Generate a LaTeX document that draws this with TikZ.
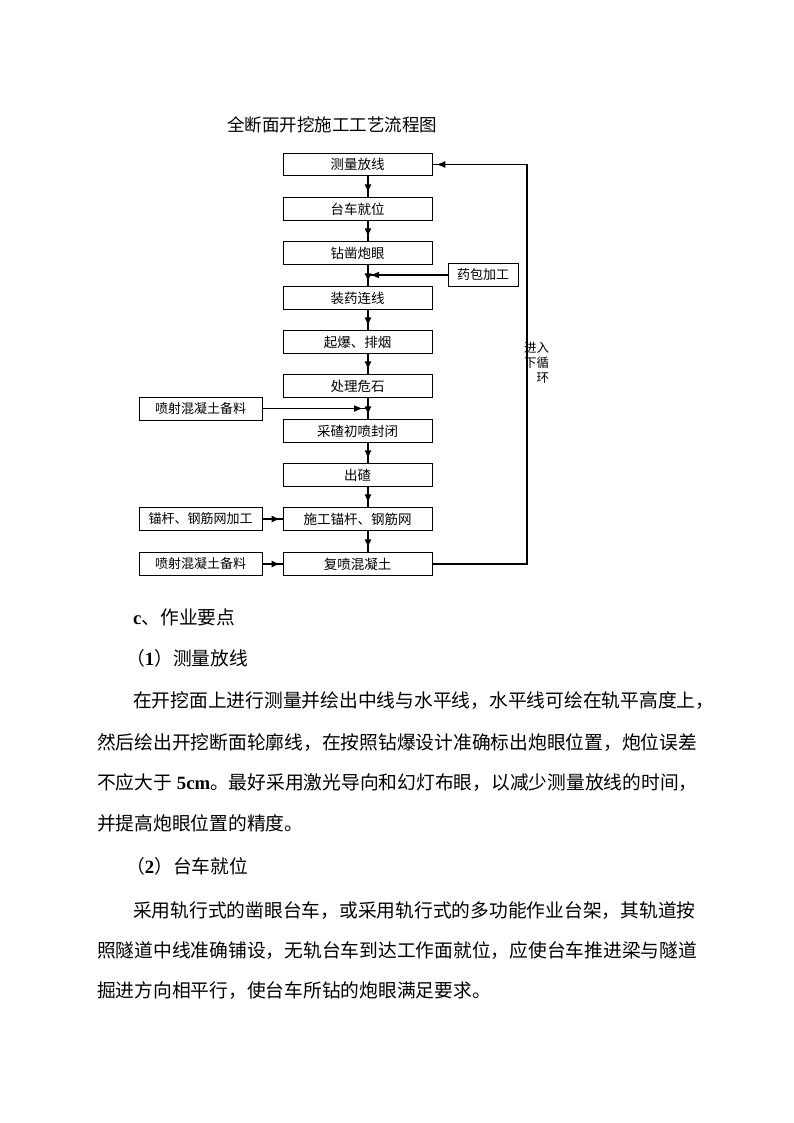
\documentclass[tikz,border=0pt]{standalone}
\usepackage{fontspec}
\setmainfont{Noto Sans CJK SC}
\newfontfamily\timesfont{Liberation Serif}
\usetikzlibrary{positioning,arrows.meta,decorations.markings}

\begin{document}
\begin{tikzpicture}[x=1pt, y=-1pt,
    proc/.style={rectangle, draw=black, line width=0.8pt, minimum width=149pt, minimum height=22.5pt, inner sep=0pt, font=\fontsize{13.5}{16}\selectfont},
    sidebox/.style={rectangle, draw=black, line width=0.8pt, minimum width=123pt, minimum height=23pt, inner sep=0pt, font=\fontsize{13}{16}\selectfont},
    flowarrow/.style={line width=1.8pt, decoration={markings, mark=at position #1 with {\arrow{Latex[length=9pt,width=7pt]}}}, postaction={decorate}},
    flowarrow/.default=-4pt,
    body/.style={anchor=base west, inner sep=0pt, font=\fontsize{18.75}{22}\selectfont}
]
\path[use as bounding box, fill=white] (0,0) rectangle (794,1123);

% ============== TITLE ==============
\node (title) at (332,125) {\fontsize{17.5}{20}\selectfont 全断面开挖施工工艺流程图};

% ============== MAIN COLUMN ==============
\node[proc] (survey)    at (357.5,164.5) {测量放线};
\node[proc] (carPos)    at (357.5,209)   {台车就位};
\node[proc] (drillHole) at (357.5,253)   {钻凿炮眼};
\node[proc] (charge)    at (357.5,298)   {装药连线};
\node[proc] (blast)     at (357.5,342)   {起爆、排烟};
\node[proc] (scaling)   at (357.5,386)   {处理危石};
\node[proc] (muckSeal)  at (357.5,431)   {采碴初喷封闭};
\node[proc] (mucking)   at (357.5,475)   {出碴};
\node[proc] (boltMesh)  at (357.5,519)   {施工锚杆、钢筋网};
\node[proc] (reSpray)   at (357.5,564)   {复喷混凝土};

% ============== SIDE BOXES ==============
\node[rectangle, draw=black, line width=0.8pt, minimum width=70pt, minimum height=23pt, inner sep=0pt, font=\fontsize{13}{16}\selectfont] (powderPrep) at (483,275) {药包加工};
\node[sidebox] (shotPrep)  at (200.5,408.5) {喷射混凝土备料};
\node[sidebox] (meshPrep)  at (200.5,519)   {锚杆、钢筋网加工};
\node[sidebox] (shotPrepB) at (200.5,564)   {喷射混凝土备料};

% ============== CONNECTORS ==============
\coordinate (axis) at (368,0);
\coordinate (loopx) at (527,0);

\draw[flowarrow] (survey.south -| axis)    -- (carPos.north -| axis);
\draw[flowarrow] (carPos.south -| axis)    -- (drillHole.north -| axis);
\draw[flowarrow] (drillHole.south -| axis) -- (charge.north -| axis);
\draw[flowarrow] (charge.south -| axis)    -- (blast.north -| axis);
\draw[flowarrow] (blast.south -| axis)     -- (scaling.north -| axis);
\draw[flowarrow] (scaling.south -| axis)   -- (muckSeal.north -| axis);
\draw[flowarrow] (muckSeal.south -| axis)  -- (mucking.north -| axis);
\draw[flowarrow] (mucking.south -| axis)   -- (boltMesh.north -| axis);
\draw[flowarrow] (boltMesh.south -| axis)  -- (reSpray.north -| axis);

% side inputs
\draw[flowarrow=-2pt] (powderPrep.west) -- (powderPrep.west -| axis);
\draw[flowarrow=-5pt] (shotPrep.east) -- (shotPrep.east -| axis);
\draw[flowarrow=-2pt] (meshPrep) -- (boltMesh);
\draw[flowarrow=-2pt] (shotPrepB) -- (reSpray);

% next cycle
\draw[flowarrow=-4pt, line width=1.1pt]
    (reSpray.east)
        -- (reSpray.east -| loopx)
        -- (survey.east -| loopx)
        -- (survey.east);
\node[anchor=west, align=right, inner sep=0pt, font=\fontsize{12.5}{15}\selectfont] (loopLabel) at (524,363) {进入\\下循\\环};

% ============== TEXT BELOW ==============
\node[body] (hdC)   at (133,624) {{\timesfont\bfseries c}、作业要点};
\node[body] (hdOne) at (126,665) {（{\timesfont\bfseries 1}）测量放线};
\node[body] (pOneA) at (133,707) {在开挖面上进行测量并绘出中线与水平线，水平线可绘在轨平高度上，};
\node[body] (pOneB) at (97,749)  {然后绘出开挖断面轮廓线，在按照钻爆设计准确标出炮眼位置，炮位误差};
\node[body] (pOneC) at (97,789)  {不应大于{\timesfont\bfseries\ 5cm}。最好采用激光导向和幻灯布眼，以减少测量放线的时间，};
\node[body] (pOneD) at (97,830)  {并提高炮眼位置的精度。};
\node[body] (hdTwo) at (126,873) {（{\timesfont\bfseries 2}）台车就位};
\node[body] (pTwoA) at (133,917) {采用轨行式的凿眼台车，或采用轨行式的多功能作业台架，其轨道按};
\node[body] (pTwoB) at (97,957)  {照隧道中线准确铺设，无轨台车到达工作面就位，应使台车推进梁与隧道};
\node[body] (pTwoC) at (97,997)  {掘进方向相平行，使台车所钻的炮眼满足要求。};

\end{tikzpicture}
\end{document}
